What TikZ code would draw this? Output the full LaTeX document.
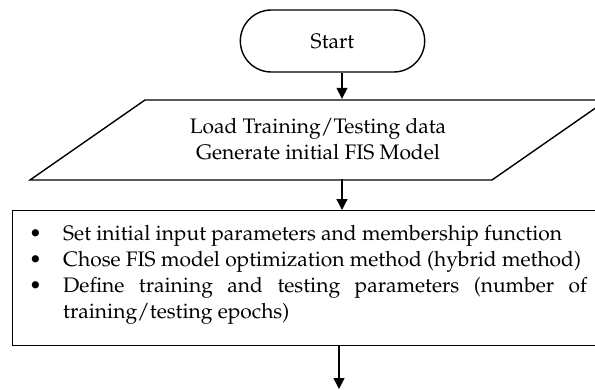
\documentclass[tikz,border=0pt]{standalone}
\usepackage[T1]{fontenc}
\usepackage{mathpazo}
\usetikzlibrary{shapes.misc}
\usetikzlibrary{arrows.meta}

\tikzset{
    flow/.style = {-{Triangle[length = 11pt, width = 11pt]}, line width = 1.4pt},
    terminal/.style = {draw, rounded rectangle, line width = 1.4pt, minimum width = 191pt, minimum height = 62pt},
    outline/.style = {draw, line width = 1.4pt, line join = miter},
}

\begin{document}
\begin{tikzpicture}[x = 1pt, y = -1pt, font = \fontsize{21}{26}\selectfont]
    \clip (0,0) rectangle (595,389);

    \node[terminal] (start) at (332.5, 41) {Start};

    % input / output block
    \node[minimum height = 80pt, align = center, inner sep = 0pt] (load) at (318, 139)
        {Load Training/Testing data\\Generate initial FIS Model};
    \draw[outline] (145,100) -- (607,100) -- (492,180) -- (30,180) -- cycle;

    % process block
    \node[outline, anchor = north west, minimum width = 610pt, minimum height = 135pt] (setup) at (12, 210) {};
    \node[anchor = north west, text width = 558pt, inner sep = 0pt, align = justify] (items) at (29, 225) {%
        \hyphenpenalty = 10000
        \hangindent = 34pt \hangafter = 1 \noindent\makebox[34pt][l]{\textbullet}Set initial input parameters and membership function\par
        \hangindent = 34pt \hangafter = 1 \noindent\makebox[34pt][l]{\textbullet}Chose FIS model optimization method (hybrid method)\par
        \hangindent = 34pt \hangafter = 1 \noindent\makebox[34pt][l]{\textbullet}Define training and testing parameters (number of\linebreak training/testing epochs)\par};

    \coordinate (spine) at (342, 0);
    \coordinate (next) at (339, 389);

    \draw[flow] (start.south -| spine) -- (load.north -| spine);
    \draw[flow] (load.south -| spine) -- (setup.north -| spine);
    \draw[flow] (setup.south -| next) -- (next);
\end{tikzpicture}
\end{document}
